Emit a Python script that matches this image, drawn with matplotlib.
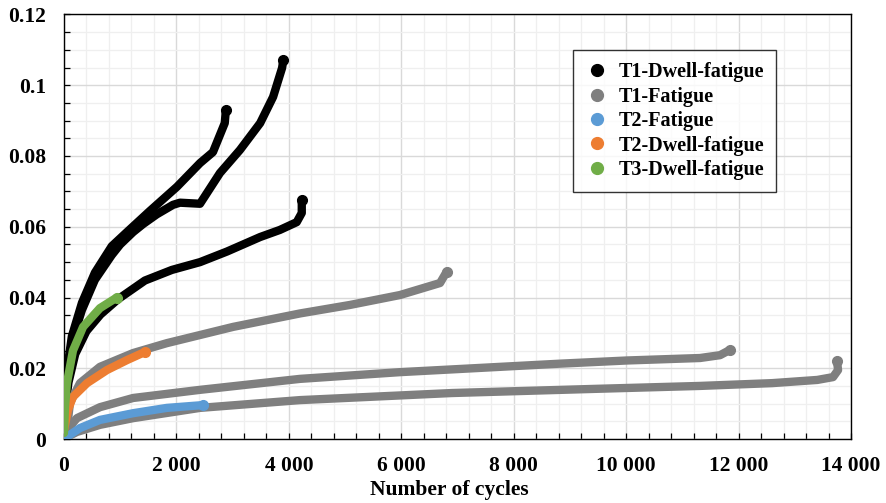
import matplotlib
matplotlib.use("Agg")
from matplotlib import pyplot as plt
from matplotlib.lines import Line2D
from matplotlib.ticker import MultipleLocator, FuncFormatter

plt.rcParams['font.family'] = ['Liberation Serif', 'DejaVu Serif']
plt.rcParams['font.weight'] = 'bold'

# T1 dwell-fatigue, three specimens (cycles, strain)
t1d_a_x = [0, 20, 140, 320, 550, 850, 1120, 1530, 2010, 2420, 2650, 2860, 2880]
t1d_a_y = [0.0017, 0.0155, 0.0290, 0.0385, 0.0470, 0.0545, 0.0585, 0.0645, 0.0713, 0.0780, 0.0811, 0.0893, 0.0930]
t1d_b_x = [0, 20, 140, 320, 550, 850, 1000, 1230, 1410, 1650, 1940, 2064, 2420, 2775, 3130, 3490, 3720, 3880, 3900]
t1d_b_y = [0.0017, 0.0140, 0.0275, 0.0365, 0.0450, 0.0520, 0.0550, 0.0585, 0.0608, 0.0635, 0.0662, 0.0668, 0.0665, 0.0752, 0.0817, 0.0893, 0.0967, 0.1049, 0.1070]
t1d_c_x = [0, 20, 80, 200, 400, 650, 960, 1440, 1920, 2420, 2900, 3490, 3840, 4140, 4230, 4230]
t1d_c_y = [0.0010, 0.0085, 0.0160, 0.0240, 0.0305, 0.0352, 0.0395, 0.0448, 0.0478, 0.0500, 0.0530, 0.0571, 0.0591, 0.0613, 0.0639, 0.0676]

# T1 fatigue, three specimens
t1f_a_x = [0, 50, 107, 285, 640, 1230, 1830, 3010, 4200, 5088, 5977, 6690, 6808]
t1f_a_y = [0.0, 0.0025, 0.0102, 0.0158, 0.0204, 0.0243, 0.0271, 0.0317, 0.0355, 0.0379, 0.0407, 0.0441, 0.0473]
t1f_b_x = [0, 50, 231, 640, 1230, 2420, 4198, 5977, 7756, 8824, 10015, 11315, 11670, 11848]
t1f_b_y = [0.0, 0.0025, 0.0059, 0.0090, 0.0116, 0.0139, 0.0170, 0.0189, 0.0204, 0.0213, 0.0222, 0.0229, 0.0237, 0.0252]
t1f_c_x = [0, 18, 231, 640, 1230, 2420, 4198, 6900, 9500, 11300, 12600, 13400, 13680, 13770, 13750]
t1f_c_y = [0.0, 0.0003, 0.0020, 0.0040, 0.0059, 0.0088, 0.0110, 0.0130, 0.0142, 0.0150, 0.0158, 0.0167, 0.0175, 0.0195, 0.0221]

# T2 fatigue
t2f_x = [0, 50, 285, 640, 1230, 1830, 2480]
t2f_y = [0.0, 0.0006, 0.0031, 0.0054, 0.0073, 0.0088, 0.0096]

# T2 dwell-fatigue
t2d_x = [0, 71, 160, 410, 765, 1120, 1440]
t2d_y = [0.0025, 0.0082, 0.0119, 0.0158, 0.0195, 0.0223, 0.0246]

# T3 dwell-fatigue
t3d_x = [0, 18, 53, 160, 340, 640, 940]
t3d_y = [0.0017, 0.0090, 0.0158, 0.0250, 0.0317, 0.0370, 0.0400]

series = [
    ('T1-Dwell-fatigue', '#000000', [(t1d_a_x, t1d_a_y), (t1d_b_x, t1d_b_y), (t1d_c_x, t1d_c_y)]),
    ('T1-Fatigue', '#7f7f7f', [(t1f_a_x, t1f_a_y), (t1f_b_x, t1f_b_y), (t1f_c_x, t1f_c_y)]),
    ('T2-Fatigue', '#5b9bd5', [(t2f_x, t2f_y)]),
    ('T2-Dwell-fatigue', '#ed7d31', [(t2d_x, t2d_y)]),
    ('T3-Dwell-fatigue', '#70ad47', [(t3d_x, t3d_y)]),
]

fig = plt.figure(figsize=(8.86, 5.03), dpi=100)
ax = fig.add_axes([0.0722, 0.1272, 0.8883, 0.8440])

handles = []
for name, color, curves in series:
    for xs, ys in curves:
        ax.plot(xs, ys, color=color, linewidth=6, solid_capstyle='round',
                solid_joinstyle='round', zorder=3)
        ax.plot(xs[-1], ys[-1], 'o', color=color, markersize=7, zorder=3)
    handles.append(Line2D([], [], color=color, marker='o', linestyle='none',
                          markersize=8.5, label=name))

ax.set_xlim(0, 14000)
ax.set_ylim(0, 0.12)
ax.xaxis.set_major_locator(MultipleLocator(2000))
ax.xaxis.set_minor_locator(MultipleLocator(400))
ax.yaxis.set_major_locator(MultipleLocator(0.02))
ax.yaxis.set_minor_locator(MultipleLocator(0.005))
ax.xaxis.set_major_formatter(FuncFormatter(lambda v, p: f"{int(round(v)):,}".replace(',', ' ')))
ax.yaxis.set_major_formatter(FuncFormatter(lambda v, p: f"{round(v, 3):g}"))

ax.grid(which='major', color='#d9d9d9', linewidth=1.0, zorder=0)
ax.grid(which='minor', color='#efefef', linewidth=0.9, zorder=0)
ax.set_axisbelow(True)

ax.tick_params(which='both', direction='in', length=4, width=0.9, color='black')
ax.tick_params(axis='y', which='major', pad=13, labelsize=15.5)
ax.tick_params(axis='x', which='major', pad=12, labelsize=15.5)
for s in ax.spines.values():
    s.set_color('black')
    s.set_linewidth(1.0)

ax.set_xlabel('Number of cycles', fontsize=15.5, fontweight='bold')
ax.xaxis.set_label_coords(0.489, -0.097)

leg = ax.legend(handles=handles, loc='upper left', bbox_to_anchor=(0.647, 0.916),
                fontsize=14.5, frameon=True, fancybox=False, edgecolor='black',
                labelspacing=0.22, handletextpad=0.45, handlelength=1.2,
                borderpad=0.6, borderaxespad=0)
leg.get_frame().set_linewidth(1.0)
leg.set_zorder(5)

fig.savefig('out.png', dpi=100)
